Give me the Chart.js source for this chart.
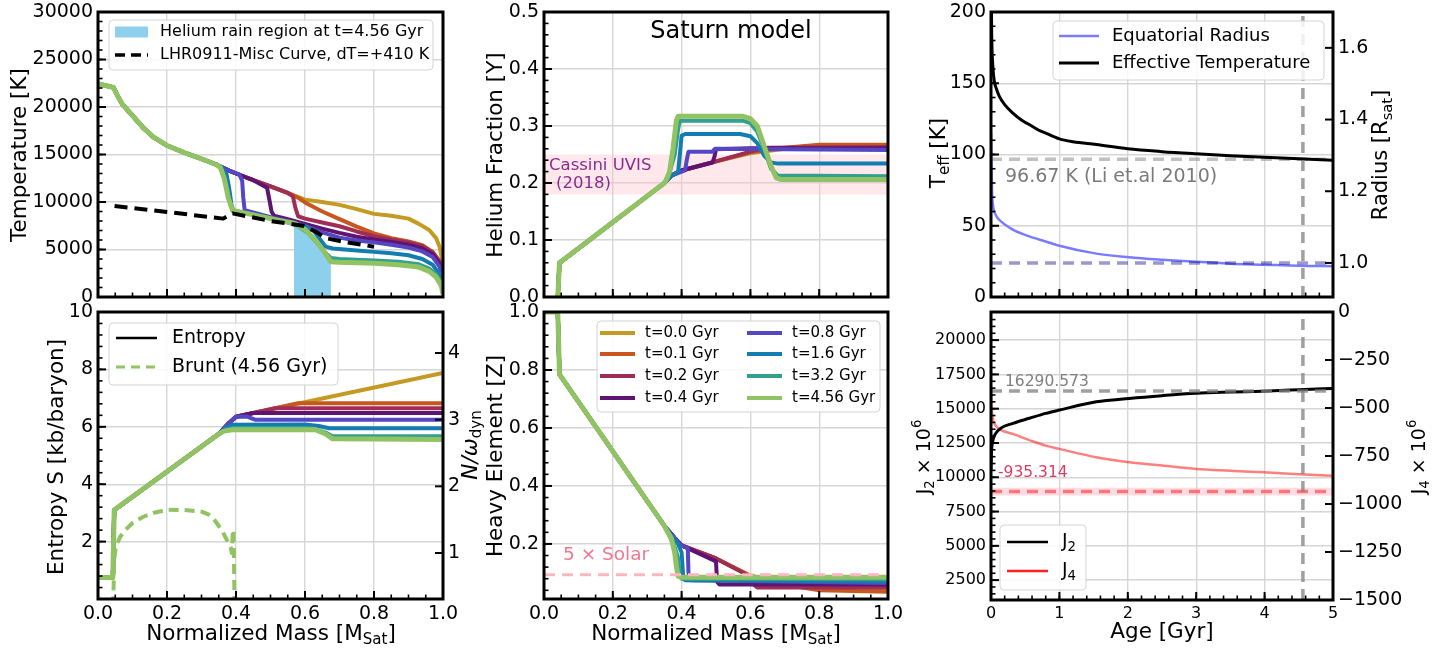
<!DOCTYPE html>
<html><head><meta charset="utf-8">
<script src="https://cdn.jsdelivr.net/npm/chart.js@4.4.1/dist/chart.umd.min.js"></script>
<style>
html,body{margin:0;padding:0;background:#fff}
body{width:1447px;height:649px;position:relative;overflow:hidden}
canvas{position:absolute;left:0;top:0}
</style></head><body>
<canvas id="c1" width="1447" height="649"></canvas>
<canvas id="c2" width="1447" height="649"></canvas>
<canvas id="c3" width="1447" height="649"></canvas>
<canvas id="c4" width="1447" height="649"></canvas>
<canvas id="c5" width="1447" height="649"></canvas>
<canvas id="c6" width="1447" height="649"></canvas>
<script>
// ---------------- DATA ----------------
const timeLabels = ['t=0.0 Gyr','t=0.1 Gyr','t=0.2 Gyr','t=0.4 Gyr','t=0.8 Gyr','t=1.6 Gyr','t=3.2 Gyr','t=4.56 Gyr'];

// Temperature [K] vs normalized mass
const tempCore = [[0,22450],[0.045,22050],[0.055,21300],[0.07,20300],[0.1,19100],[0.13,17850],[0.16,16850],[0.2,15950],[0.25,15200],[0.3,14550],[0.345,13900]];
const tempUpper = [[0.38,13300],[0.4,13000],[0.45,12300],[0.5,11650],[0.55,10950]];
const temp_t0_0 = [...tempCore, ...tempUpper, [0.6,10250],[0.65,10000],[0.7,9700],[0.75,9250],[0.8,8750],[0.85,8550],[0.9,8250],[0.93,7700],[0.96,7050],[0.98,6200],[0.99,5300],[1.0,3500]];
const temp_t0_1 = [...tempCore, ...tempUpper, [0.58,10450],[0.6,9950],[0.65,9000],[0.7,8200],[0.75,7400],[0.8,6700],[0.85,6200],[0.9,5850],[0.94,5450],[0.97,4750],[0.99,3800],[1.0,2500]];
const temp_t0_2 = [...tempCore, ...tempUpper, [0.565,10600],[0.572,9400],[0.58,8500],[0.6,8250],[0.65,7850],[0.7,7450],[0.75,6900],[0.8,6400],[0.85,6050],[0.9,5750],[0.94,5350],[0.97,4700],[0.99,3700],[1.0,2300]];
const temp_t0_4 = [...tempCore, [0.38,13300],[0.4,13000],[0.45,12300],[0.49,11500],[0.497,10200],[0.503,9000],[0.51,8550],[0.55,8200],[0.6,7700],[0.65,7200],[0.7,6750],[0.75,6350],[0.8,6050],[0.85,5800],[0.9,5500],[0.94,5100],[0.97,4500],[0.99,3500],[1.0,2200]];
const temp_t0_8 = [...tempCore, [0.38,13300],[0.41,12900],[0.418,12200],[0.421,10500],[0.425,9150],[0.45,8900],[0.5,8400],[0.55,8000],[0.6,7500],[0.65,6800],[0.7,6250],[0.75,5950],[0.8,5750],[0.85,5500],[0.9,5200],[0.94,4800],[0.97,4200],[0.99,3200],[1.0,2000]];
const temp_t1_6 = [...tempCore, [0.36,13650],[0.372,13000],[0.38,11500],[0.387,9700],[0.393,9050],[0.45,8700],[0.5,8300],[0.55,7900],[0.6,7400],[0.625,7000],[0.645,6000],[0.66,5300],[0.68,5100],[0.75,4900],[0.8,4750],[0.85,4600],[0.9,4400],[0.94,4000],[0.97,3400],[0.99,2400],[1.0,1500]];
const temp_t3_2 = [...tempCore, [0.355,13700],[0.368,12400],[0.38,10300],[0.39,9100],[0.45,8700],[0.5,8300],[0.55,7850],[0.58,7450],[0.61,6700],[0.635,5700],[0.655,4800],[0.675,4100],[0.7,4000],[0.8,3850],[0.87,3700],[0.93,3450],[0.96,3000],[0.98,2400],[0.995,1500],[1.0,800]];
const temp_t4_56 = [...tempCore, [0.355,13600],[0.365,12600],[0.378,10400],[0.39,9100],[0.45,8650],[0.5,8250],[0.54,7950],[0.571,7750],[0.6,7100],[0.63,6000],[0.652,4950],[0.675,3700],[0.7,3650],[0.8,3550],[0.87,3400],[0.93,3150],[0.96,2700],[0.98,2100],[0.995,1200],[1.0,300]];
const heliumRain = [[0.568,7800],[0.6,7100],[0.63,6000],[0.652,4950],[0.675,3700]];
const lhr0911 = [[0.048,9570],[0.2,8950],[0.363,8250],[0.39,8800],[0.5,8000],[0.594,7500],[0.63,6900],[0.66,6200],[0.72,5750],[0.8,5300]];

// Entropy [kb/baryon]
const entCore = [[0,0.75],[0.043,0.75],[0.047,3.1],[0.35,5.75]];
const ent_t0_0 = [...entCore,[0.375,6.08],[0.4,6.35],[1.0,7.88]];
const ent_t0_1 = [...entCore,[0.375,6.08],[0.4,6.35],[0.58,6.82],[1.0,6.82]];
const ent_t0_2 = [...entCore,[0.375,6.08],[0.4,6.35],[0.515,6.65],[1.0,6.65]];
const ent_t0_4 = [...entCore,[0.375,6.08],[0.4,6.35],[0.45,6.48],[1.0,6.48]];
const ent_t0_8 = [...entCore,[0.375,6.08],[0.4,6.35],[0.43,6.36],[0.455,6.25],[1.0,6.25]];
const ent_t1_6 = [...entCore,[0.37,5.97],[0.39,6.07],[0.6,6.08],[0.64,6.03],[0.67,5.95],[1.0,5.95]];
const ent_t3_2 = [...entCore,[0.37,5.9],[0.39,5.95],[0.62,5.95],[0.66,5.8],[0.68,5.67],[1.0,5.67]];
const ent_t4_56 = [...entCore,[0.365,5.85],[0.39,5.9],[0.63,5.9],[0.66,5.75],[0.68,5.58],[1.0,5.56]];
const brunt_t4_56 = [[0.044,0.2],[0.047,0.9],[0.052,1.1],[0.065,1.25],[0.08,1.35],[0.1,1.45],[0.13,1.54],[0.16,1.6],[0.2,1.65],[0.25,1.645],[0.3,1.62],[0.32,1.58],[0.34,1.48],[0.36,1.33],[0.375,1.18],[0.385,1.08],[0.388,1.0],[0.391,1.35],[0.393,1.3],[0.396,0.2]];

// Helium fraction Y
const heCore = [[0.04,0],[0.045,0.06],[0.35,0.2]];
const he_t0_0 = [...heCore,[0.37,0.213],[0.4,0.222],[0.5,0.238],[0.6,0.252],[0.7,0.26],[0.8,0.265],[1.0,0.265]];
const he_t0_1 = [...heCore,[0.37,0.213],[0.4,0.222],[0.5,0.238],[0.6,0.254],[0.7,0.262],[0.8,0.267],[1.0,0.267]];
const he_t0_2 = [...heCore,[0.37,0.213],[0.4,0.222],[0.5,0.238],[0.6,0.255],[0.65,0.262],[1.0,0.263]];
const he_t0_4 = [...heCore,[0.37,0.213],[0.4,0.222],[0.49,0.236],[0.495,0.245],[0.5,0.259],[0.6,0.261],[1.0,0.261]];
const he_t0_8 = [...heCore,[0.37,0.213],[0.41,0.222],[0.415,0.24],[0.42,0.255],[0.49,0.255],[0.497,0.26],[1.0,0.258]];
const he_t1_6 = [...heCore,[0.37,0.212],[0.39,0.22],[0.395,0.25],[0.4,0.283],[0.41,0.286],[0.57,0.286],[0.6,0.282],[0.62,0.27],[0.64,0.248],[0.66,0.236],[0.68,0.234],[1.0,0.234]];
const he_t3_2 = [...heCore,[0.36,0.208],[0.38,0.25],[0.39,0.295],[0.395,0.309],[0.58,0.309],[0.6,0.305],[0.62,0.29],[0.64,0.26],[0.66,0.225],[0.68,0.213],[1.0,0.212]];
const he_t4_56 = [...heCore,[0.355,0.205],[0.365,0.22],[0.375,0.26],[0.385,0.31],[0.39,0.317],[0.578,0.317],[0.6,0.313],[0.62,0.3],[0.64,0.265],[0.66,0.23],[0.675,0.209],[0.69,0.206],[1.0,0.206]];
const cassiniUVIS = [0.18, 0.25];

// Heavy element Z
const zCore = [[0,1.0],[0.04,1.0],[0.045,0.785],[0.35,0.262]];
const z_t0_0 = [...zCore,[0.38,0.22],[0.4,0.195],[0.5,0.15],[0.6,0.09],[0.7,0.06],[0.8,0.045],[1.0,0.045]];
const z_t0_1 = [...zCore,[0.38,0.22],[0.4,0.195],[0.5,0.15],[0.6,0.09],[0.7,0.06],[0.8,0.04],[1.0,0.035]];
const z_t0_2 = [...zCore,[0.38,0.22],[0.4,0.195],[0.5,0.15],[0.58,0.1],[0.6,0.07],[0.62,0.05],[1.0,0.05]];
const z_t0_4 = [...zCore,[0.38,0.22],[0.4,0.195],[0.5,0.14],[0.503,0.07],[0.51,0.06],[1.0,0.06]];
const z_t0_8 = [...zCore,[0.38,0.22],[0.4,0.195],[0.418,0.185],[0.42,0.1],[0.425,0.075],[1.0,0.065]];
const z_t1_6 = [...zCore,[0.37,0.23],[0.39,0.2],[0.4,0.17],[0.405,0.08],[0.41,0.075],[1.0,0.07]];
const z_t3_2 = [...zCore,[0.36,0.24],[0.38,0.19],[0.39,0.15],[0.395,0.09],[0.4,0.08],[1.0,0.078]];
const z_t4_56 = [...zCore,[0.355,0.25],[0.37,0.22],[0.38,0.17],[0.385,0.12],[0.39,0.088],[0.4,0.085],[1.0,0.085]];
const fiveSolarZ = 0.094;

// Evolution vs age [Gyr]
const teffK = [[0,235],[0.01,185],[0.03,160],[0.05,151],[0.08,146],[0.12,141],[0.2,135],[0.32,129],[0.45,124],[0.56,121],[0.7,117],[0.8,115],[1.0,111],[1.2,109],[1.54,107],[2.0,104],[2.5,102],[3.0,100.5],[3.5,99.2],[4.0,98.1],[4.5,97],[5.0,96]];
const radiusEq = [[0,1.36],[0.005,1.3],[0.015,1.2],[0.03,1.16],[0.07,1.134],[0.15,1.115],[0.32,1.093],[0.56,1.074],[0.8,1.06],[1.0,1.048],[1.54,1.026],[2.02,1.016],[2.5,1.009],[3.0,1.003],[3.5,0.998],[4.0,0.995],[4.5,0.992],[5.0,0.991]];
const teffLi2010 = 96.67;
const radiusRef = 1.0;
const ageNow = 4.56;
const j2e6 = [[0,10500],[0.005,11600],[0.024,12590],[0.07,13200],[0.15,13600],[0.32,13930],[0.56,14300],[0.8,14660],[1.0,14900],[1.54,15500],[2.02,15750],[2.5,15950],[3.0,16120],[3.5,16210],[3.98,16280],[4.5,16380],[5.0,16480]];
const j4e6 = [[0,-390],[0.005,-470],[0.024,-548],[0.07,-592],[0.15,-615],[0.32,-635],[0.56,-667],[0.8,-696],[1.0,-713],[1.54,-757],[2.02,-783],[2.5,-800],[3.0,-818],[3.5,-827],[3.98,-835],[4.5,-845],[5.0,-853]];
const j2Obs = 16290.573;
const j4Obs = -935.314;
const j4ObsErr = 20;

// Tick values
const massTicks = [0,0.2,0.4,0.6,0.8,1.0];
const tempTicks = [0,5000,10000,15000,20000,25000,30000];
const entTicks = [2,4,6,8,10];
const bruntTicks = [1,2,3,4];
const heTicks = [0,0.1,0.2,0.3,0.4,0.5];
const zTicks = [0.2,0.4,0.6,0.8,1.0];
const ageTicks = [0,1,2,3,4,5];
const teffTicks = [0,50,100,150,200];
const radTicks = [1.0,1.2,1.4,1.6];
const j2Ticks = [2500,5000,7500,10000,12500,15000,17500,20000];
const j4Ticks = [0,-250,-500,-750,-1000,-1250,-1500];

// ---------------- STYLE / HELPERS ----------------
const FONT = '"DejaVu Sans"';
const timeColors = ['#C49A22','#C8561F','#A02D55','#5F1473','#5546C3','#147DAF','#32A08C','#91C364'];
const GRID = '#d6d6d6';
Chart.defaults.font.family = 'DejaVu Sans';
Chart.defaults.color = '#000';
const W = 1447, H = 649;
const BOX_L = 90, BOX_R = 90, BOX_B = 40;
const SMOOTH = {cubicInterpolationMode: 'monotone'};

function richText(ctx, parts, x, y, o) {
  const size = o.size || 19;
  ctx.save();
  ctx.translate(x, y);
  if (o.rot) ctx.rotate(o.rot);
  let w = 0;
  const ms = parts.map(p => {
    const fs = (p.sub || p.sup) ? size * 0.7 : size;
    const f = (p.italic ? 'italic ' : '') + fs + 'px ' + FONT;
    ctx.font = f;
    const mw = ctx.measureText(p.t).width;
    w += mw;
    return {p, f, mw};
  });
  let cx = o.align === 'center' ? -w / 2 : (o.align === 'right' ? -w : 0);
  ctx.textBaseline = 'middle';
  ctx.fillStyle = o.color || '#000';
  ms.forEach(m => {
    ctx.font = m.f;
    const dy = m.p.sub ? size * 0.28 : (m.p.sup ? -size * 0.38 : 0);
    ctx.fillText(m.p.t, cx, dy);
    cx += m.mw;
  });
  ctx.restore();
}

function drawLegend(chart, L) {
  const ctx = chart.ctx;
  const [x1, y1, x2, y2] = L.box;
  ctx.save();
  ctx.beginPath();
  if (ctx.roundRect) ctx.roundRect(x1, y1, x2 - x1, y2 - y1, 4); else ctx.rect(x1, y1, x2 - x1, y2 - y1);
  ctx.fillStyle = 'rgba(255,255,255,0.85)';
  ctx.fill();
  ctx.strokeStyle = '#d4d4d4';
  ctx.lineWidth = 1;
  ctx.stroke();
  L.items.forEach(it => {
    const ds = it.ds !== undefined ? chart.data.datasets[it.ds] : {};
    if (it.patch) {
      ctx.fillStyle = ds.backgroundColor;
      ctx.fillRect(it.x, it.y - it.h / 2, it.len, it.h);
    } else {
      ctx.strokeStyle = it.color || ds.borderColor;
      ctx.lineWidth = it.lw || ds.borderWidth;
      ctx.setLineDash(it.dash || ds.borderDash || []);
      ctx.lineCap = 'butt';
      ctx.beginPath();
      ctx.moveTo(it.x, it.y);
      ctx.lineTo(it.x + it.len, it.y);
      ctx.stroke();
      ctx.setLineDash([]);
    }
    richText(ctx, it.parts || [{t: ds.label}], it.tx, it.y, {size: L.size, align: 'left'});
  });
  ctx.restore();
}

const deco = {
  id: 'deco',
  afterDatasetsDraw(chart, args, o) {
    const ctx = chart.ctx;
    (o.texts || []).forEach(t => richText(ctx, t.parts, t.x, t.y, t));
  },
  afterDraw(chart, args, o) {
    const ctx = chart.ctx, a = chart.chartArea;
    ctx.save();
    ctx.strokeStyle = '#000';
    ctx.lineCap = 'butt';
    (o.ticks || []).forEach(tk => {
      const s = chart.scales[tk.scale];
      const draw = (v, len, lw) => {
        const p = s.getPixelForValue(v);
        ctx.lineWidth = lw;
        ctx.beginPath();
        if (tk.side === 'bottom') {
          if (p < a.left + 2 || p > a.right - 2) return;
          ctx.moveTo(p, a.bottom); ctx.lineTo(p, a.bottom - len);
        } else if (tk.side === 'left') {
          if (p < a.top + 2 || p > a.bottom - 2) return;
          ctx.moveTo(a.left, p); ctx.lineTo(a.left + len, p);
        } else {
          if (p < a.top + 2 || p > a.bottom - 2) return;
          ctx.moveTo(a.right, p); ctx.lineTo(a.right - len, p);
        }
        ctx.stroke();
      };
      if (tk.minor) {
        const i0 = Math.ceil(s.min / tk.minor - 1e-9), i1 = Math.floor(s.max / tk.minor + 1e-9);
        for (let i = i0; i <= i1; i++) draw(i * tk.minor, 4.5, 1.6);
      }
      s.ticks.forEach(t => draw(t.value, 8, 2));
    });
    ctx.lineWidth = 3;
    ctx.strokeRect(a.left, a.top, a.width, a.height);
    ctx.restore();
    (o.titles || []).forEach(t => richText(ctx, t.parts, t.x, t.y, t));
    if (o.legend) drawLegend(chart, o.legend);
  }
};

function scale(pos, min, max, ticks, o = {}) {
  const show = o.labels !== false;
  const box = !show ? 0 : (pos === 'left' ? BOX_L : pos === 'right' ? BOX_R : BOX_B);
  return {
    type: 'linear', position: pos, min, max,
    afterBuildTicks: s => { s.ticks = ticks.map(v => ({value: v})); },
    afterFit: s => {
      if (s.isHorizontal()) s.height = box; else s.width = box;
      s.paddingLeft = s.paddingRight = s.paddingTop = s.paddingBottom = 0;
    },
    grid: {display: o.grid !== false, color: GRID, lineWidth: 1.4, drawTicks: false},
    border: {display: false},
    ticks: {display: show, autoSkip: false, maxRotation: 0, minRotation: 0,
      padding: o.pad || 5, font: {size: o.size || 19}, color: '#000',
      callback: o.fmt || (v => String(v))}
  };
}
const pts = arr => arr.map(([x, y]) => ({x, y}));
function line(label, arr, color, width, extra = {}) {
  return Object.assign({label, data: pts(arr), borderColor: color, backgroundColor: color, borderWidth: width,
    pointRadius: 0, pointHoverRadius: 0, fill: false, tension: 0,
    borderJoinStyle: 'round', borderCapStyle: 'butt'}, extra);
}
function hline(label, yv, x0, x1, color, width, extra = {}) {
  return line(label, [[x0, yv], [x1, yv]], color, width, extra);
}
function timeSets(arrs) {
  return arrs.map((a, i) => line(timeLabels[i], a, timeColors[i], i === 7 ? 5 : 4, {order: 10 - i}));
}
function makeChart(id, rect, datasets, scales, decoOpts) {
  const [L, T, R, B] = rect;
  let bl = 0, br = 0, bb = 0;
  Object.values(scales).forEach(s => {
    if (!s.ticks.display) return;
    if (s.position === 'left') bl = BOX_L;
    else if (s.position === 'right') br = BOX_R;
    else if (s.position === 'bottom') bb = BOX_B;
  });
  return new Chart(document.getElementById(id), {
    type: 'line',
    data: {datasets},
    options: {
      responsive: false, animation: false, devicePixelRatio: 1,
      layout: {padding: {left: L - bl, top: T, right: W - R - br, bottom: H - B - bb}},
      scales,
      plugins: {legend: {display: false}, tooltip: {enabled: false}, title: {display: false}, deco: decoOpts},
      events: []
    },
    plugins: [deco]
  });
}
const f1 = v => v.toFixed(1);
const minusFmt = v => v < 0 ? '\u2212' + String(-v) : String(v);
const massTitle = [{t: 'Normalized Mass [M'}, {t: 'Sat', sub: true}, {t: ']'}];
const ROT = -Math.PI / 2;

// ---------------- PANEL 1: Temperature ----------------
makeChart('c1', [98, 12, 443, 297], [
  line('Helium rain region at t=4.56 Gyr', heliumRain, '#87CEEB', 0, {backgroundColor: '#8DD0EC', fill: 'origin', order: 30}),
  ...timeSets([temp_t0_0, temp_t0_1, temp_t0_2, temp_t0_4, temp_t0_8, temp_t1_6, temp_t3_2, temp_t4_56]),
  line('LHR0911-Misc Curve, dT=+410 K', lhr0911, '#000', 4, {borderDash: [13, 7], order: 0})
], {
  x: scale('bottom', 0, 1, massTicks, {labels: false}),
  y: scale('left', 0, 30000, tempTicks)
}, {
  ticks: [{scale: 'x', side: 'bottom', minor: 0.05}, {scale: 'y', side: 'left', minor: 1000}],
  titles: [{parts: [{t: 'Temperature [K]'}], x: 20, y: 155, rot: ROT, align: 'center', size: 21.5}],
  legend: {box: [109, 20, 433, 70], size: 16, items: [
    {ds: 0, patch: true, x: 115, y: 32, len: 33, h: 11, tx: 160},
    {ds: 9, x: 115, y: 55, len: 33, lw: 3.5, dash: [10, 6], tx: 160}
  ]}
});

// ---------------- PANEL 4: Entropy ----------------
makeChart('c4', [98, 312, 443, 599], [
  ...timeSets([ent_t0_0, ent_t0_1, ent_t0_2, ent_t0_4, ent_t0_8, ent_t1_6, ent_t3_2, ent_t4_56]),
  line('Brunt (4.56 Gyr)', brunt_t4_56, '#91C364', 4, {borderDash: [10, 6], yAxisID: 'y2', order: 0})
], {
  x: scale('bottom', 0, 1, massTicks, {fmt: f1, pad: 4}),
  y: scale('left', 0, 10, entTicks),
  y2: scale('right', 0.31, 4.615, bruntTicks, {grid: false})
}, {
  ticks: [{scale: 'x', side: 'bottom', minor: 0.05}, {scale: 'y', side: 'left', minor: 0.4}, {scale: 'y2', side: 'right'}],
  titles: [
    {parts: [{t: 'Entropy S [kb/baryon]'}], x: 57, y: 457, rot: ROT, align: 'center', size: 21.5},
    {parts: [{t: 'N/ω', italic: true}, {t: 'dyn', sub: true}], x: 471, y: 445, rot: ROT, align: 'center', size: 21.5},
    {parts: massTitle, x: 271, y: 634, align: 'center', size: 21.5}
  ],
  legend: {box: [109, 323, 338, 385], size: 19, items: [
    {x: 116, y: 338, len: 41, lw: 2.5, color: '#000', tx: 172, parts: [{t: 'Entropy'}]},
    {ds: 8, x: 116, y: 367, len: 41, lw: 3, dash: [9, 6], tx: 172}
  ]}
});

// ---------------- PANEL 2: Helium ----------------
makeChart('c2', [544, 12, 888, 297], [
  line('Cassini UVIS (2018)', [[0, cassiniUVIS[1]], [1, cassiniUVIS[1]]], 'rgba(0,0,0,0)', 0, {backgroundColor: 'rgba(255,192,203,0.36)', fill: {value: cassiniUVIS[0]}, order: 30}),
  ...timeSets([he_t0_0, he_t0_1, he_t0_2, he_t0_4, he_t0_8, he_t1_6, he_t3_2, he_t4_56])
], {
  x: scale('bottom', 0, 1, massTicks, {labels: false}),
  y: scale('left', 0, 0.5, heTicks, {fmt: f1})
}, {
  ticks: [{scale: 'x', side: 'bottom', minor: 0.05}, {scale: 'y', side: 'left', minor: 0.02}],
  titles: [
    {parts: [{t: 'Helium Fraction [Y]'}], x: 496, y: 155, rot: ROT, align: 'center', size: 21.5},
    {parts: [{t: 'Saturn model'}], x: 731, y: 32, align: 'center', size: 24}
  ],
  texts: [
    {parts: [{t: 'Cassini UVIS'}], x: 549, y: 166, size: 16.5, color: '#8E2A8E'},
    {parts: [{t: '(2018)'}], x: 556, y: 184, size: 16.5, color: '#8E2A8E'}
  ]
});

// ---------------- PANEL 5: Heavy element ----------------
makeChart('c5', [544, 312, 888, 599], [
  ...timeSets([z_t0_0, z_t0_1, z_t0_2, z_t0_4, z_t0_8, z_t1_6, z_t3_2, z_t4_56]),
  hline('5 × Solar', fiveSolarZ, 0, 1, '#FFB6C1', 3, {borderDash: [11, 7], order: 0})
], {
  x: scale('bottom', 0, 1, massTicks, {fmt: f1, pad: 4}),
  y: scale('left', 0.01, 1.0, zTicks, {fmt: f1})
}, {
  ticks: [{scale: 'x', side: 'bottom', minor: 0.05}, {scale: 'y', side: 'left', minor: 0.04}],
  titles: [
    {parts: [{t: 'Heavy Element [Z]'}], x: 496, y: 456, rot: ROT, align: 'center', size: 21.5},
    {parts: massTitle, x: 716, y: 634, align: 'center', size: 21.5}
  ],
  texts: [{parts: [{t: '5 × Solar'}], x: 563, y: 555, size: 18.5, color: '#F07890'}],
  legend: {box: [597, 321, 880, 412], size: 15, items: [0, 1, 2, 3, 4, 5, 6, 7].map(i => ({
    ds: i, x: i < 4 ? 600 : 747, y: [333, 354, 376, 398][i % 4], len: 35, lw: 4, tx: i < 4 ? 645 : 792
  }))}
});

// ---------------- PANEL 3: Teff & radius ----------------
makeChart('c3', [991, 12, 1333, 297], [
  line('Effective Temperature', teffK, '#000', 3, {order: 3, ...SMOOTH}),
  hline('Li et al. 2010', teffLi2010, 0, 5, 'rgba(150,150,150,0.6)', 3.5, {borderDash: [11, 7], order: 4}),
  line('Equatorial Radius', radiusEq, '#7B7BFF', 2.5, {yAxisID: 'y2', order: 6, ...SMOOTH}),
  hline('Radius reference', radiusRef, 0, 5, 'rgba(0,0,128,0.4)', 3.5, {borderDash: [11, 7], yAxisID: 'y2', order: 5}),
  line('Present age', [[ageNow, 0], [ageNow, 200]], 'rgba(128,128,128,0.75)', 3.5, {borderDash: [11, 7], order: 1})
], {
  x: scale('bottom', 0, 5, ageTicks, {labels: false}),
  y: scale('left', 0, 200, teffTicks),
  y2: scale('right', 0.905, 1.7, radTicks, {grid: false, fmt: f1})
}, {
  ticks: [{scale: 'x', side: 'bottom', minor: 0.2}, {scale: 'y', side: 'left', minor: 10}, {scale: 'y2', side: 'right'}],
  titles: [
    {parts: [{t: 'T'}, {t: 'eff', sub: true}, {t: ' [K]'}], x: 939, y: 153, rot: ROT, align: 'center', size: 21.5},
    {parts: [{t: 'Radius [R'}, {t: 'sat', sub: true}, {t: ']'}], x: 1382, y: 155, rot: ROT, align: 'center', size: 21}
  ],
  texts: [{parts: [{t: '96.67 K (Li et.al 2010)'}], x: 1005, y: 177, size: 19, color: '#7a7a7a'}],
  legend: {box: [1053, 21, 1324, 80], size: 18, items: [
    {ds: 2, x: 1059, y: 36, len: 40, lw: 2.5, tx: 1112},
    {ds: 0, x: 1059, y: 63, len: 40, lw: 3, tx: 1112}
  ]}
});

// ---------------- PANEL 6: J2 & J4 ----------------
makeChart('c6', [991, 312, 1333, 600], [
  line('J2', j2e6, '#000', 3, {order: 3, ...SMOOTH}),
  hline('J2 obs', j2Obs, 0, 5, 'rgba(128,128,128,0.75)', 3.5, {borderDash: [11, 7], order: 2}),
  line('J4', j4e6, 'rgba(255,0,0,0.5)', 2.5, {yAxisID: 'y2', order: 4, ...SMOOTH}),
  hline('J4 obs band', j4Obs + j4ObsErr, 0, 5, 'rgba(0,0,0,0)', 0, {yAxisID: 'y2', backgroundColor: 'rgba(255,192,203,0.55)', fill: {value: j4Obs - j4ObsErr}, order: 30}),
  hline('J4 obs', j4Obs, 0, 5, 'rgba(255,90,90,0.8)', 3.5, {borderDash: [11, 7], yAxisID: 'y2', order: 2}),
  line('Present age', [[ageNow, 1050], [ageNow, 22050]], 'rgba(128,128,128,0.75)', 3.5, {borderDash: [11, 7], order: 1})
], {
  x: scale('bottom', 0, 5, ageTicks, {size: 16, pad: 4}),
  y: scale('left', 1050, 22050, j2Ticks, {size: 16}),
  y2: scale('right', -1500, 0, j4Ticks, {grid: false, fmt: minusFmt})
}, {
  ticks: [{scale: 'x', side: 'bottom', minor: 0.2}, {scale: 'y', side: 'left', minor: 500}, {scale: 'y2', side: 'right'}],
  titles: [
    {parts: [{t: 'J'}, {t: '2', sub: true}, {t: ' × 10'}, {t: '6', sup: true}], x: 925, y: 457, rot: ROT, align: 'center', size: 19},
    {parts: [{t: 'J'}, {t: '4', sub: true}, {t: ' × 10'}, {t: '6', sup: true}], x: 1420, y: 457, rot: ROT, align: 'center', size: 19},
    {parts: [{t: 'Age [Gyr]'}], x: 1162, y: 632, align: 'center', size: 21.5}
  ],
  texts: [
    {parts: [{t: '16290.573'}], x: 1005, y: 382, size: 15.5, color: '#808080'},
    {parts: [{t: '-935.314'}], x: 998, y: 473, size: 15.5, color: '#DC3C64'}
  ],
  legend: {box: [1000, 525, 1086, 590], size: 19, items: [
    {ds: 0, x: 1007, y: 542, len: 41, lw: 2.5, color: '#000', tx: 1062, parts: [{t: 'J'}, {t: '2', sub: true}]},
    {ds: 2, x: 1007, y: 571, len: 41, lw: 2.5, color: '#FF2020', tx: 1062, parts: [{t: 'J'}, {t: '4', sub: true}]}
  ]}
});
</script>
</body></html>
